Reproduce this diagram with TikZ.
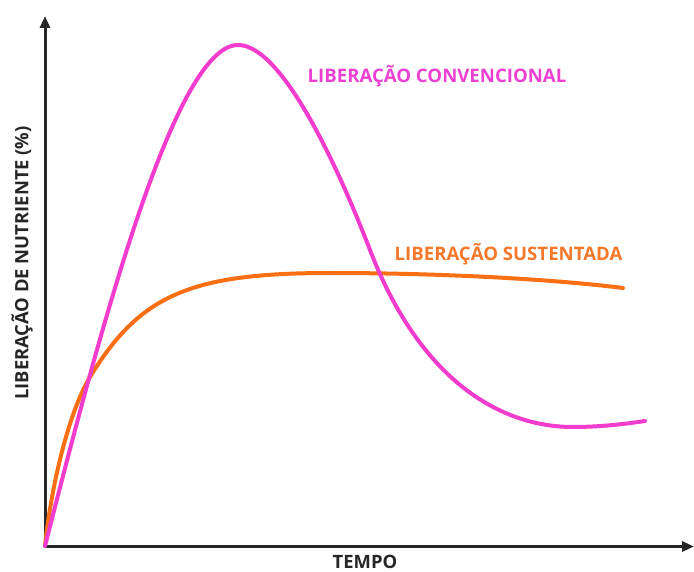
\documentclass[tikz,border=0pt]{standalone}
\usepackage{fontspec}
\setmainfont{Open Sans}
\usetikzlibrary{arrows.meta}
\definecolor{magentac}{RGB}{242,60,205}
\definecolor{orangec}{RGB}{250,110,20}
\definecolor{magentat}{RGB}{236,64,210}
\definecolor{oranget}{RGB}{244,120,42}
\tikzset{
  axis/.style={line width=3pt, draw=black!85, -{Triangle[length=12pt,width=10pt]}},
  curve/.style={line width=4pt, line cap=round, line join=round},
  lbl/.style={font=\fontsize{18.6}{21}\selectfont\bfseries, inner sep=0pt, anchor=center},
  axlbl/.style={font=\fontsize{18.4}{21}\selectfont\bfseries, inner sep=0pt, text=black!85, anchor=center}
}
\begin{document}
\begin{tikzpicture}[x=1pt,y=-1pt]
\useasboundingbox (0,0) rectangle (694,572);
\coordinate (O) at (45,546.5);
\coordinate (Ytip) at (45,16);
\coordinate (Xtip) at (694,546.5);
\draw[axis] (O) -- (Ytip);
\draw[axis] (O) -- (Xtip);
% sustained release
\coordinate (s0) at (45,546);
\coordinate (s1) at (90,377);
\coordinate (s2) at (330,273);
\coordinate (s3) at (623,288);
\draw[curve, orangec] (s0) .. controls (52,480) and (70,410) .. (s1)
  .. controls (140,295) and (190,273) .. (s2)
  .. controls (450,273) and (560,280) .. (s3);
% conventional release
\coordinate (c0) at (45,546);
\coordinate (c1) at (238,45);
\coordinate (c2) at (370,250);
\coordinate (c3) at (573,427);
\coordinate (c4) at (645,421);
\draw[curve, magentac] (c0) .. controls (100,330) and (175,45) .. (c1)
  .. controls (283,45) and (340,172) .. (c2)
  .. controls (420,380) and (500,427) .. (c3)
  .. controls (600,427) and (625,424) .. (c4);
\node[lbl, text=magentat] (conv) at (437,76.5) {LIBERAÇÃO CONVENCIONAL};
\node[lbl, text=oranget] (sust) at (508.5,254) {LIBERAÇÃO SUSTENTADA};
\node[axlbl, rotate=90] (ylab) at (22,263) {LIBERAÇÃO DE NUTRIENTE (\%)};
\node[axlbl] (xlab) at (365,561.5) {TEMPO};
\end{tikzpicture}
\end{document}
